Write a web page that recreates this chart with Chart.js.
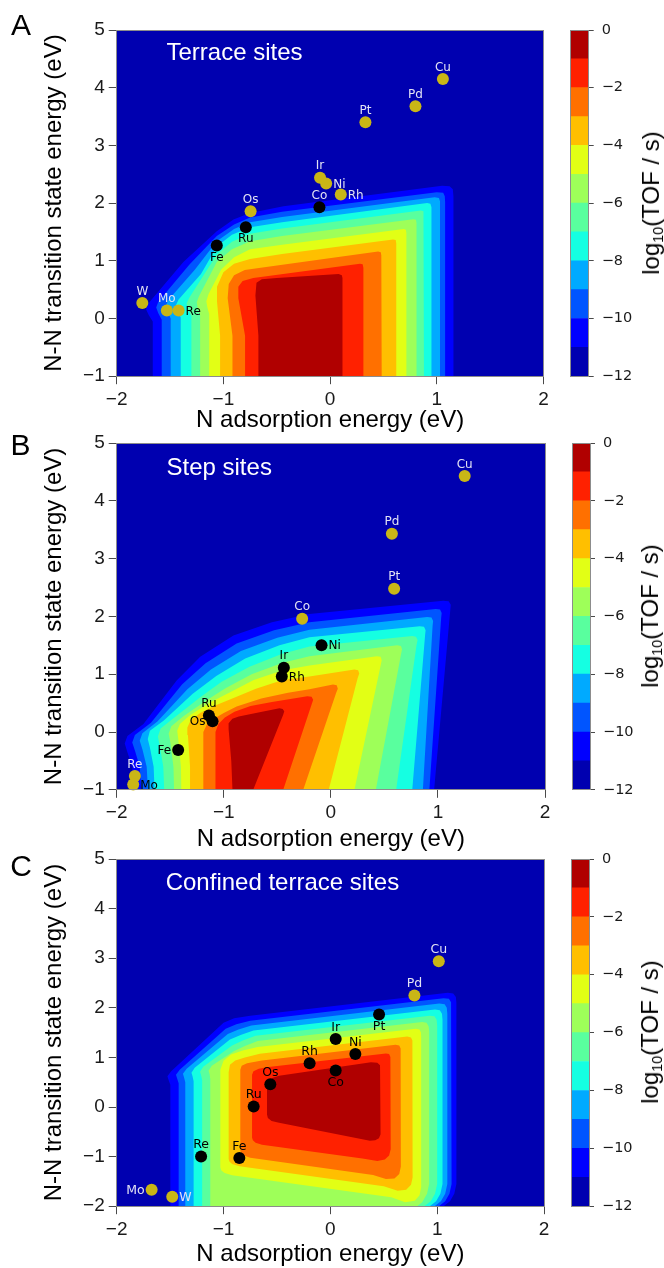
<!DOCTYPE html>
<html>
<head>
<meta charset="utf-8">
<script src="https://cdn.jsdelivr.net/npm/chart.js@4.4.1/dist/chart.umd.min.js"></script>
<style>
html,body{margin:0;padding:0;background:#fff}
body{width:664px;height:1268px;position:relative;overflow:hidden;font-family:"Liberation Sans",Arial,Helvetica,sans-serif}
canvas{position:absolute}
.txt{position:absolute;line-height:1;white-space:nowrap}
.letter{font-size:30px;color:#000}
.ptitle{font-size:24px;color:#fff}
.cblabel{font-size:24px;color:#000;transform:translate(-50%,-50%) rotate(-90deg)}
.cblabel sub{font-size:0.6em;vertical-align:-0.28em;line-height:0}
</style>
</head>
<body>
<script>
// ================= DATA =================
const levels = [-12,-11,-10,-9,-8,-7,-6,-5,-4,-3,-2,-1,0];
const xTicks = [-2,-1,0,1,2];
const yTicksAB = [-1,0,1,2,3,4,5];
const yTicksC = [-2,-1,0,1,2,3,4,5];
const cbTicks = [-12,-10,-8,-6,-4,-2,0];

// Panel A : terrace sites
const metalsA = ['W','Mo','Re','Fe','Ru','Os','Co','Ir','Ni','Rh','Pt','Pd','Cu'];
const eNA     = [-1.76,-1.53,-1.42,-1.062,-0.79,-0.745,-0.10,-0.094,-0.037,0.10,0.331,0.80,1.057];
const eTSA    = [0.27,0.14,0.14,1.265,1.58,1.86,1.93,2.44,2.34,2.15,3.40,3.68,4.15];
const classA  = [0,0,0,1,1,0,1,0,0,0,0,0,0];

// Panel B : step sites
const metalsB = ['Cu','Pd','Pt','Co','Ni','Ir','Rh','Ru','Os','Fe','Re','Mo'];
const eNB     = [1.25,0.57,0.591,-0.268,-0.087,-0.439,-0.458,-1.139,-1.105,-1.426,-1.83,-1.846];
const eTSB    = [4.43,3.43,2.48,1.96,1.50,1.11,0.96,0.285,0.187,-0.31,-0.76,-0.91];
const classB  = [0,0,0,0,1,1,1,1,1,1,0,0];

// Panel C : confined terrace sites
const metalsC = ['Cu','Pd','Pt','Ir','Ni','Rh','Co','Os','Ru','Re','Fe','Mo','W'];
const eNC     = [1.015,0.787,0.456,0.05,0.234,-0.194,0.05,-0.562,-0.718,-1.21,-0.852,-1.673,-1.48];
const eTSC    = [2.94,2.25,1.865,1.37,1.07,0.88,0.735,0.46,0.01,-1.0,-1.03,-1.67,-1.81];
const classC  = [0,0,1,1,1,1,1,1,1,1,1,0,0];

// contour regions (log10 TOF >= level), outer to inner: domain, -11 ... -1
const contoursA = [
 [[-2.1,-1.3],[2.1,-1.3],[2.1,5.3],[-2.1,5.3]],
 [[-1.662,-1.3],[-1.662,-0.05],[-1.70,0.06],[-1.725,0.16],[-1.70,0.27],[-1.375,0.98],[-1.062,1.51],[-0.906,1.716],[-0.75,1.83],[-0.437,1.947],[1.05,2.30],[1.12,2.29],[1.15,2.24],[1.156,2.12],[1.156,-1.3]],
 [[-1.578,-1.3],[-1.578,-0.02],[-1.61,0.09],[-1.63,0.19],[-1.61,0.29],[-1.32,0.93],[-1.062,1.43],[-0.90,1.63],[-0.75,1.75],[-0.45,1.85],[1.0,2.19],[1.06,2.18],[1.075,2.12],[1.078,2.02],[1.078,-1.3]],
 [[-1.494,-1.3],[-1.494,0.0],[-1.52,0.11],[-1.54,0.21],[-1.52,0.31],[-1.27,0.84],[-1.062,1.34],[-0.90,1.55],[-0.75,1.67],[-0.45,1.76],[0.98,2.10],[1.02,2.09],[1.03,2.03],[1.03,1.93],[1.03,-1.3]],
 [[-1.40,-1.3],[-1.40,0.02],[-1.43,0.13],[-1.445,0.23],[-1.42,0.33],[-1.21,0.77],[-1.062,1.25],[-0.92,1.45],[-0.75,1.58],[-0.45,1.67],[0.91,2.0],[0.94,1.99],[0.95,1.93],[0.95,1.83],[0.95,-1.3]],
 [[-1.30,-1.3],[-1.30,0.04],[-1.33,0.15],[-1.345,0.26],[-1.32,0.36],[-1.062,1.11],[-0.92,1.33],[-0.75,1.47],[-0.45,1.56],[0.85,1.87],[0.875,1.86],[0.88,1.80],[0.88,1.70],[0.88,-1.3]],
 [[-1.218,-1.3],[-1.218,0.06],[-1.24,0.17],[-1.25,0.28],[-1.23,0.38],[-1.062,0.98],[-0.92,1.20],[-0.75,1.34],[-0.45,1.43],[0.78,1.72],[0.805,1.71],[0.81,1.65],[0.81,1.55],[0.81,-1.3]],
 [[-1.133,-1.3],[-1.133,0.08],[-1.15,0.19],[-1.16,0.30],[-1.14,0.42],[-1.02,0.85],[-0.90,1.06],[-0.75,1.20],[-0.45,1.28],[0.69,1.55],[0.71,1.54],[0.715,1.48],[0.715,1.38],[0.715,-1.3]],
 [[-1.031,-1.3],[-1.031,-0.3],[-1.06,0.3],[-1.06,0.55],[-1.00,0.80],[-0.90,0.95],[-0.75,1.03],[-0.45,1.12],[0.59,1.37],[0.615,1.36],[0.62,1.30],[0.62,1.20],[0.62,-1.3]],
 [[-0.915,-1.3],[-0.915,-0.3],[-0.96,0.35],[-0.95,0.60],[-0.90,0.75],[-0.80,0.84],[-0.65,0.88],[0.45,1.16],[0.475,1.15],[0.48,1.09],[0.484,1.0],[0.484,-1.3]],
 [[-0.797,-1.3],[-0.797,-0.3],[-0.86,0.35],[-0.86,0.55],[-0.82,0.65],[-0.72,0.70],[0.28,0.95],[0.305,0.94],[0.312,0.88],[0.312,-1.3]],
 [[-0.672,-1.3],[-0.672,-0.3],[-0.70,0.40],[-0.69,0.62],[-0.64,0.68],[-0.50,0.70],[0.08,0.77],[0.11,0.75],[0.116,0.70],[0.116,-1.3]]
];
const contoursB = [
 [[-2.1,-1.3],[2.1,-1.3],[2.1,5.3],[-2.1,5.3]],
 [[-1.83,-1.3],[-1.855,-0.6],[-1.90,-0.35],[-1.925,-0.2],[-1.90,-0.07],[-1.75,0.14],[-1.44,0.89],[-1.22,1.30],[-0.91,1.67],[-0.55,1.90],[-0.2,2.04],[1.05,2.27],[1.10,2.26],[1.12,2.20],[1.115,2.10],[0.95,-1.3]],
 [[-1.76,-1.3],[-1.785,-0.6],[-1.83,-0.32],[-1.855,-0.18],[-1.83,-0.05],[-1.68,0.16],[-1.39,0.82],[-1.17,1.19],[-0.88,1.53],[-0.53,1.76],[-0.2,1.90],[0.98,2.13],[1.02,2.12],[1.035,2.06],[1.03,1.97],[0.909,-1.3]],
 [[-1.70,-1.3],[-1.72,-0.6],[-1.76,-0.30],[-1.785,-0.15],[-1.76,-0.02],[-1.62,0.18],[-1.34,0.74],[-1.12,1.08],[-0.84,1.40],[-0.50,1.63],[-0.2,1.77],[0.90,1.99],[0.94,1.98],[0.955,1.92],[0.95,1.83],[0.85,-1.3]],
 [[-1.64,-1.3],[-1.655,-0.6],[-1.69,-0.27],[-1.71,-0.12],[-1.69,0.02],[-1.56,0.20],[-1.29,0.66],[-1.07,0.97],[-0.80,1.27],[-0.48,1.50],[-0.2,1.64],[0.83,1.83],[0.87,1.82],[0.885,1.76],[0.88,1.67],[0.747,-1.3]],
 [[-1.55,-1.3],[-1.565,-0.6],[-1.60,-0.22],[-1.615,-0.08],[-1.59,0.06],[-1.47,0.24],[-1.22,0.60],[-1.02,0.87],[-0.76,1.13],[-0.46,1.35],[-0.2,1.48],[0.76,1.66],[0.795,1.65],[0.81,1.59],[0.80,1.50],[0.587,-1.3]],
 [[-1.46,-1.3],[-1.47,-0.6],[-1.50,-0.17],[-1.515,-0.03],[-1.49,0.10],[-1.38,0.27],[-1.16,0.55],[-0.98,0.76],[-0.74,1.00],[-0.45,1.20],[-0.2,1.31],[0.62,1.50],[0.655,1.49],[0.665,1.43],[0.655,1.34],[0.39,-1.3]],
 [[-1.394,-1.3],[-1.40,-0.6],[-1.425,-0.12],[-1.435,0.02],[-1.41,0.14],[-1.31,0.30],[-1.12,0.52],[-0.95,0.68],[-0.72,0.90],[-0.45,1.07],[-0.2,1.15],[0.43,1.31],[0.465,1.30],[0.475,1.24],[0.465,1.15],[0.186,-1.3]],
 [[-1.31,-1.3],[-1.315,-0.6],[-1.335,-0.05],[-1.34,0.08],[-1.31,0.20],[-1.22,0.33],[-1.08,0.46],[-0.92,0.58],[-0.70,0.75],[-0.45,0.90],[-0.2,0.96],[0.22,1.08],[0.255,1.07],[0.265,1.01],[0.25,0.93],[-0.062,-1.3]],
 [[-1.192,-1.3],[-1.192,-0.5],[-1.19,0.0],[-1.16,0.12],[-1.10,0.22],[-1.0,0.33],[-0.88,0.44],[-0.65,0.58],[-0.40,0.68],[-0.2,0.74],[0.02,0.82],[0.055,0.81],[0.065,0.75],[0.05,0.68],[-0.313,-1.3]],
 [[-1.08,-1.3],[-1.08,-0.4],[-1.075,0.0],[-1.05,0.14],[-0.99,0.25],[-0.90,0.35],[-0.75,0.45],[-0.55,0.52],[-0.22,0.62],[-0.18,0.61],[-0.165,0.56],[-0.175,0.50],[-0.499,-1.3]],
 [[-0.912,-1.3],[-0.93,-0.5],[-0.955,0.05],[-0.955,0.15],[-0.92,0.23],[-0.86,0.27],[-0.70,0.33],[-0.48,0.41],[-0.45,0.40],[-0.435,0.36],[-0.445,0.30],[-0.79,-1.3]]
];
const contoursC = [
 [[-2.1,-2.3],[2.1,-2.3],[2.1,5.3],[-2.1,5.3]],
 [[-1.498,-2.3],[-1.498,0.45],[-1.515,0.55],[-1.525,0.62],[-1.49,0.72],[-1.0,1.70],[-0.90,1.79],[-0.75,1.84],[1.10,2.305],[1.15,2.29],[1.175,2.22],[1.18,2.10],[1.18,-1.55],[1.16,-1.75],[1.12,-1.90],[1.06,-2.0],[1.0,-2.3]],
 [[-1.42,-2.3],[-1.42,0.48],[-1.435,0.58],[-1.445,0.65],[-1.41,0.75],[-0.98,1.58],[-0.88,1.67],[-0.75,1.74],[1.06,2.195],[1.11,2.18],[1.13,2.11],[1.135,1.99],[1.135,-1.55],[1.115,-1.75],[1.075,-1.90],[1.015,-2.0],[0.955,-2.3]],
 [[-1.358,-2.3],[-1.358,0.50],[-1.37,0.60],[-1.38,0.67],[-1.345,0.77],[-0.96,1.47],[-0.86,1.56],[-0.74,1.645],[1.02,2.085],[1.07,2.07],[1.09,2.0],[1.095,1.88],[1.095,-1.55],[1.075,-1.75],[1.035,-1.90],[0.975,-2.0],[0.915,-2.3]],
 [[-1.28,-2.3],[-1.28,0.52],[-1.29,0.62],[-1.30,0.69],[-1.27,0.79],[-0.94,1.36],[-0.84,1.45],[-0.72,1.54],[0.98,1.965],[1.025,1.95],[1.045,1.88],[1.05,1.76],[1.05,-1.55],[1.03,-1.75],[0.99,-1.90],[0.93,-2.0],[0.87,-2.3]],
 [[-1.20,-2.3],[-1.20,0.54],[-1.21,0.64],[-1.22,0.71],[-1.19,0.81],[-0.92,1.24],[-0.82,1.34],[-0.70,1.435],[0.93,1.84],[0.975,1.83],[0.995,1.76],[1.0,1.64],[1.0,-1.55],[0.98,-1.75],[0.94,-1.90],[0.88,-2.0],[0.82,-2.3]],
 [[-1.124,-2.3],[-1.124,0.56],[-1.13,0.66],[-1.14,0.73],[-1.11,0.83],[-0.90,1.13],[-0.80,1.23],[-0.68,1.33],[0.86,1.715],[0.90,1.70],[0.92,1.63],[0.925,1.52],[0.925,-1.55],[0.905,-1.75],[0.86,-1.92],[0.80,-2.02],[0.74,-2.3]],
 [[-1.03,-1.22],[-1.03,0.75],[-1.0,0.93],[-0.93,1.06],[-0.82,1.14],[-0.68,1.21],[0.80,1.58],[0.835,1.56],[0.848,1.50],[0.85,1.40],[0.85,-1.62],[0.835,-1.78],[0.79,-1.89],[0.70,-1.92],[0.57,-1.82],[-0.92,-1.374],[-0.99,-1.33],[-1.02,-1.28]],
 [[-0.952,-1.05],[-0.952,0.70],[-0.94,0.85],[-0.89,0.94],[-0.80,1.0],[-0.66,1.075],[0.72,1.42],[0.755,1.40],[0.768,1.34],[0.77,1.25],[0.77,-1.42],[0.755,-1.57],[0.71,-1.67],[0.63,-1.69],[0.50,-1.60],[-0.85,-1.195],[-0.92,-1.15],[-0.945,-1.10]],
 [[-0.843,-0.88],[-0.843,0.75],[-0.83,0.83],[-0.78,0.88],[-0.64,0.94],[0.61,1.255],[0.645,1.24],[0.658,1.18],[0.66,1.10],[0.66,-1.20],[0.645,-1.35],[0.60,-1.44],[0.52,-1.45],[0.40,-1.37],[-0.75,-1.025],[-0.81,-0.98],[-0.835,-0.93]],
 [[-0.733,-0.62],[-0.733,0.65],[-0.72,0.72],[-0.67,0.77],[-0.58,0.805],[0.52,1.08],[0.55,1.07],[0.562,1.01],[0.565,0.94],[0.565,-0.85],[0.55,-0.98],[0.51,-1.06],[0.44,-1.09],[0.30,-1.04],[-0.64,-0.76],[-0.70,-0.72],[-0.725,-0.67]],
 [[-0.593,-0.15],[-0.593,0.42],[-0.58,0.52],[-0.54,0.59],[-0.48,0.63],[0.38,0.90],[0.44,0.89],[0.465,0.84],[0.47,0.76],[0.47,-0.55],[0.455,-0.63],[0.42,-0.67],[0.37,-0.68],[-0.48,-0.32],[-0.55,-0.28],[-0.585,-0.22]]
];

// ================= STYLES / LAYOUT =================
const bandColors = ['#0000b0','#0000ff','#0055ff','#00aaff','#15ffe2','#59ff9e','#9eff59','#e2ff15','#ffbf00','#ff7000','#ff2100','#b00000'];
const yellowPt = '#c9b616';
const labelPosA = {W:'N',Mo:'N',Re:'E',Fe:'S',Ru:'S',Os:'N',Co:'N',Ir:'N',Ni:'E',Rh:'E',Pt:'N',Pd:'N',Cu:'N'};
const labelToneA = {W:'l',Mo:'l',Re:'d',Fe:'d',Ru:'d',Os:'l',Co:'l',Ir:'l',Ni:'l',Rh:'l',Pt:'l',Pd:'l',Cu:'l'};
const labelPosB = {Cu:'N',Pd:'N',Pt:'N',Co:'N',Ni:'E',Ir:'N',Rh:'E',Ru:'N',Os:'W',Fe:'W',Re:'N',Mo:'E'};
const labelToneB = {Cu:'l',Pd:'l',Pt:'l',Co:'l',Ni:'d',Ir:'d',Rh:'d',Ru:'d',Os:'d',Fe:'d',Re:'l',Mo:'d'};
const labelPosC = {Cu:'N',Pd:'N',Pt:'S',Ir:'N',Ni:'N',Rh:'N',Co:'S',Os:'N',Ru:'N',Re:'N',Fe:'N',Mo:'W',W:'E'};
const labelToneC = {Cu:'l',Pd:'l',Pt:'d',Ir:'d',Ni:'d',Rh:'d',Co:'d',Os:'d',Ru:'d',Re:'d',Fe:'d',Mo:'l',W:'l'};

const panels = [
 {letter:'A', title:'Terrace sites', metals:metalsA, eN:eNA, eTS:eTSA, cls:classA, contours:contoursA,
  pos:labelPosA, tone:labelToneA, yTicks:yTicksAB, ymin:-1,
  plotLeft:116.7, plotRight:543.5, plotTop:30.3, plotBottom:376.5, cbLeft:570.3, cbRight:588.7,
  xTitleCapTop:412, letterPos:[11,9.6], titlePos:[166.5,40.2], cbLabelX:651, lblSize:12},
 {letter:'B', title:'Step sites', metals:metalsB, eN:eNB, eTS:eTSB, cls:classB, contours:contoursB,
  pos:labelPosB, tone:labelToneB, yTicks:yTicksAB, ymin:-1,
  plotLeft:116.7, plotRight:545, plotTop:442.5, plotBottom:789.3, cbLeft:572.7, cbRight:590,
  xTitleCapTop:830, letterPos:[10.5,429.6], titlePos:[166.5,454.7], cbLabelX:649.5, lblSize:12},
 {letter:'C', title:'Confined terrace sites', metals:metalsC, eN:eNC, eTS:eTSC, cls:classC, contours:contoursC,
  pos:labelPosC, tone:labelToneC, yTicks:yTicksC, ymin:-2,
  plotLeft:116.7, plotRight:544, plotTop:858.5, plotBottom:1205.7, cbLeft:571.3, cbRight:589,
  xTitleCapTop:1245, letterPos:[10.2,851.3], titlePos:[165.7,869.7], cbLabelX:650, lblSize:12.5}
];

Chart.defaults.font.family = "'Liberation Sans', Arial, Helvetica, sans-serif";
Chart.defaults.color = '#000';
const fmtMinus = v => (v < 0 ? '\u2212' : '') + Math.abs(v);
const frameColor = '#8c8c8c', tickColor = '#4a4a4a', tickLabelColor = '#1a1a1a';

function addCanvas(left, top, w, h) {
  const c = document.createElement('canvas');
  c.width = w; c.height = h;
  c.style.left = left + 'px'; c.style.top = top + 'px';
  c.style.width = w + 'px'; c.style.height = h + 'px';
  document.body.appendChild(c);
  return c;
}
function addText(html, cls, left, top) {
  const d = document.createElement('div');
  d.className = 'txt ' + cls;
  d.innerHTML = html;
  d.style.left = left + 'px'; d.style.top = top + 'px';
  document.body.appendChild(d);
  return d;
}

const pointLabels = {
  id: 'pointLabels',
  afterDatasetsDraw(chart) {
    const ctx = chart.ctx;
    chart.data.datasets.forEach((ds, i) => {
      if (!ds.ptNames) return;
      const meta = chart.getDatasetMeta(i);
      ctx.save();
      ctx.font = ds.lblSize + 'px "DejaVu Sans", "Liberation Sans", sans-serif';
      meta.data.forEach((el, j) => {
        const name = ds.ptNames[j];
        const p = ds.lblPos[name], tone = ds.lblTone[name];
        ctx.fillStyle = tone === 'l' ? '#e2e2f4' : '#000';
        let x = el.x, y = el.y;
        ctx.textBaseline = 'middle';
        if (p === 'N') { ctx.textAlign = 'center'; y -= 11.5; }
        else if (p === 'S') { ctx.textAlign = 'center'; y += 12; }
        else if (p === 'E') { ctx.textAlign = 'left'; x += 7; y += 1; }
        else { ctx.textAlign = 'right'; x -= 7; y += 1; }
        ctx.fillText(name, x, y);
      });
      ctx.restore();
    });
  }
};

function buildMain(P) {
  const H = 460, W = 560;
  const canvasTop = P.plotTop - 30;
  const plotH = P.plotBottom - P.plotTop;
  const cv = addCanvas(0, canvasTop, W, H);
  const xTitleMid = P.xTitleCapTop + 8.9;
  const xTitlePad = (canvasTop + H) - xTitleMid - 14.4;
  const datasets = [];
  P.contours.forEach((poly, k) => {
    datasets.push({
      type: 'line',
      data: poly.map(p => ({x: p[0], y: p[1]})),
      showLine: true, fill: 'shape', tension: 0,
      backgroundColor: bandColors[k], borderColor: 'rgba(0,0,0,0)', borderWidth: 0,
      pointRadius: 0, pointHoverRadius: 0, order: 100 - k
    });
  });
  [0, 1].forEach(cls => {
    const idx = P.metals.map((m, i) => i).filter(i => P.cls[i] === cls);
    datasets.push({
      type: 'scatter',
      data: idx.map(i => ({x: P.eN[i], y: P.eTS[i]})),
      ptNames: idx.map(i => P.metals[i]),
      lblPos: P.pos, lblTone: P.tone, lblSize: P.lblSize,
      pointRadius: 6, pointHoverRadius: 6, borderWidth: 0,
      backgroundColor: cls ? '#000000' : yellowPt,
      pointBackgroundColor: cls ? '#000000' : yellowPt,
      order: cls ? 1 : 0, clip: false
    });
  });
  const axisBase = {
    grid: {display: true, drawOnChartArea: false, drawTicks: true, tickLength: 8, color: tickColor, lineWidth: 1},
    border: {display: true, color: frameColor, width: 1, z: 1}
  };
  new Chart(cv, {
    type: 'scatter',
    data: {datasets},
    options: {
      responsive: false, animation: false, devicePixelRatio: 1, events: [],
      layout: {padding: {left: 0, top: 30, right: W - P.plotRight, bottom: 0}},
      plugins: {legend: {display: false}, tooltip: {enabled: false}},
      scales: {
        x: Object.assign({}, axisBase, {
          type: 'linear', position: 'bottom', min: -2, max: 2,
          afterBuildTicks: s => { s.ticks = xTicks.map(v => ({value: v})); },
          afterFit: s => { s.height = H - 30 - plotH; },
          ticks: {callback: fmtMinus, font: {size: 19}, color: tickLabelColor, padding: 4, maxRotation: 0, autoSkip: false},
          title: {display: true, text: 'N adsorption energy (eV)', font: {size: 24}, color: '#000', padding: {top: 0, bottom: xTitlePad}}
        }),
        y: Object.assign({}, axisBase, {
          type: 'linear', position: 'left', min: P.ymin, max: 5,
          afterBuildTicks: s => { s.ticks = P.yTicks.map(v => ({value: v})); },
          afterFit: s => { s.width = P.plotLeft; },
          ticks: {callback: fmtMinus, font: {size: 19}, color: tickLabelColor, padding: 4, autoSkip: false},
          title: {display: true, text: 'N-N transition state energy (eV)', font: {size: 24}, color: '#000', padding: {top: 39.6, bottom: 0}}
        }),
        x2: {type: 'linear', position: 'top', min: -2, max: 2, ticks: {display: false},
             grid: {display: false, drawTicks: false}, border: {display: true, color: frameColor, width: 1, z: 1},
             afterFit: s => { s.height = 0; }},
        y2: {type: 'linear', position: 'right', min: P.ymin, max: 5, ticks: {display: false},
             grid: {display: false, drawTicks: false}, border: {display: true, color: frameColor, width: 1, z: 1},
             afterFit: s => { s.width = 0; }}
      }
    },
    plugins: [pointLabels]
  });
}

function buildColorbar(P) {
  const H = 460, left = 560, W = 104;
  const canvasTop = P.plotTop - 30;
  const plotH = P.plotBottom - P.plotTop;
  const cv = addCanvas(left, canvasTop, W, H);
  const datasets = bandColors.map((c, i) => ({
    data: [[levels[i], levels[i + 1]]], backgroundColor: c,
    barPercentage: 1, categoryPercentage: 1, grouped: false, borderWidth: 0,
    xAxisID: 'x', yAxisID: 'y'
  }));
  const edge = {display: true, color: frameColor, width: 1, z: 1};
  new Chart(cv, {
    type: 'bar',
    data: {labels: [''], datasets},
    options: {
      responsive: false, animation: false, devicePixelRatio: 1, events: [],
      layout: {padding: {left: P.cbLeft - left, top: 30, right: 0, bottom: H - 30 - plotH}},
      plugins: {legend: {display: false}, tooltip: {enabled: false}},
      scales: {
        x: {type: 'category', position: 'bottom', ticks: {display: false}, grid: {display: false, drawTicks: false}, border: edge, afterFit: s => { s.height = 0; }},
        xt: {type: 'category', position: 'top', labels: [''], ticks: {display: false}, grid: {display: false, drawTicks: false}, border: edge, afterFit: s => { s.height = 0; }},
        y: {type: 'linear', position: 'right', min: -12, max: 0,
            afterBuildTicks: s => { s.ticks = cbTicks.map(v => ({value: v})); },
            afterFit: s => { s.width = 664 - P.cbRight; },
            ticks: {callback: fmtMinus, font: {family: "'DejaVu Sans', sans-serif", size: 14.5}, color: tickLabelColor, padding: 8, autoSkip: false},
            grid: {display: true, drawOnChartArea: false, drawTicks: true, tickLength: 5, color: tickColor},
            border: edge},
        yl: {type: 'linear', position: 'left', min: -12, max: 0, ticks: {display: false}, grid: {display: false, drawTicks: false}, border: edge, afterFit: s => { s.width = 0; }}
      }
    }
  });
}

panels.forEach(P => {
  buildMain(P);
  buildColorbar(P);
  addText(P.letter, 'letter', P.letterPos[0], P.letterPos[1]);
  addText(P.title, 'ptitle', P.titlePos[0], P.titlePos[1]);
  addText('log<sub>10</sub>(TOF / s)', 'cblabel', P.cbLabelX, (P.plotTop + P.plotBottom) / 2);
});
</script>
</body>
</html>
